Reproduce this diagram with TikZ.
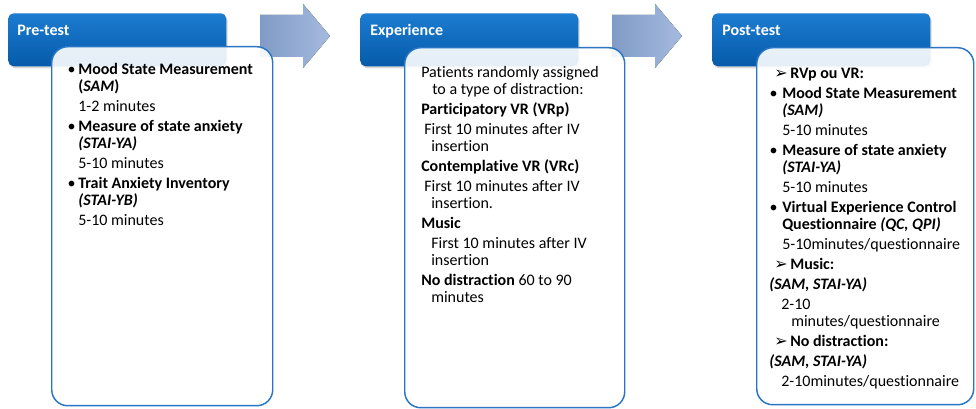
\documentclass[tikz,border=0pt]{standalone}
\usepackage{fontspec}
\setmainfont{Carlito}[Ligatures=NoCommon]
\newfontfamily\symfont{DejaVu Sans}
\usepackage{tikz}
\usetikzlibrary{positioning, shadows}
\definecolor{headtop}{RGB}{28,124,208}
\definecolor{headbot}{RGB}{6,90,170}
\definecolor{boxline}{RGB}{40,118,196}
\definecolor{arrowleft}{RGB}{128,155,198}
\definecolor{arrowright}{RGB}{165,186,222}
\newcommand{\bul}{\llap{\textbullet\hspace{2pt}}}
\newcommand{\bulwide}{\llap{\textbullet\hspace{3.5pt}}}
\newcommand{\arrhead}{{\symfont\fontsize{12}{12}\selectfont ➢}\hspace{2pt}}

\begin{document}
\begin{tikzpicture}[
    x=0.75pt, y=-0.75pt,
    header/.style={rectangle, rounded corners=4pt, anchor=north west, minimum width=163.5pt, minimum height=39.75pt, top color=headtop, bottom color=headbot, drop shadow={shadow xshift=1pt, shadow yshift=-1.5pt, opacity=0.3}},
    headtext/.style={anchor=north west, inner sep=0pt, text=white, font=\bfseries\fontsize{12}{12.75}\selectfont},
    panel/.style={rectangle, rounded corners=12pt, anchor=north west, draw=boxline, line width=1.1pt, fill=white, fill opacity=0.9},
    paneltext/.style={inner sep=0pt, align=left, font=\fontsize{12}{12.75}\selectfont},
    blockarrow/.style={left color=arrowleft, right color=arrowright}
]
    \path[use as bounding box, fill=white] (0,0) rectangle (976,409);

    % stage headers
    \node[header] (pre) at (8,13) {};
    \node[header] (exp) at (360,13) {};
    \node[header] (post) at (712,13) {};

    % arrows between stages
    \fill[blockarrow] (260,15) -- (303,15) -- (303,4) -- (330,36) -- (303,68) -- (303,57) -- (260,57) -- cycle;
    \fill[blockarrow] (612,15) -- (655,15) -- (655,4) -- (682,36) -- (655,68) -- (655,57) -- (612,57) -- cycle;

    % content panels
    \node[panel, minimum width=165.75pt, minimum height=269.25pt] (prebox) at (51,46) {};
    \node[panel, minimum width=165pt, minimum height=270pt] (expbox) at (404,47) {};
    \node[panel, minimum width=162.75pt, minimum height=267.75pt] (postbox) at (756,47) {};

    \node[headtext, below right=7.5pt and 6.75pt of pre.north west] (pretitle) {\strut Pre-test};
    \node[headtext, below right=7.5pt and 7.5pt of exp.north west] (exptitle) {\strut Experience};
    \node[headtext, below right=7.5pt and 7.5pt of post.north west] (posttitle) {\strut Post-test};

    \node[paneltext, below right=12.1pt and 20.25pt of prebox.north west] (pretext) {\strut\bul\textbf{Mood State Measurement}\\
        \textbf{(\textit{SAM})}\\[2.25pt]
        1-2 minutes\\[2.25pt]
        \bul\textbf{Measure of state anxiety}\\
        \textbf{\textit{(STAI-YA)}}\\[2.25pt]
        5-10 minutes\\[2.25pt]
        \bul\textbf{Trait Anxiety Inventory}\\
        \textbf{\textit{(STAI-YB)}}\\[2.25pt]
        5-10 minutes};

    \node[paneltext, below right=13.6pt and 12.75pt of expbox.north west] (exptext) {\strut Patients randomly assigned\\
        \hspace*{8.25pt}to a type of distraction:\\[2.25pt]
        \textbf{Participatory VR (VRp)}\\[2.25pt]
        \hspace*{2.25pt}First 10 minutes after IV\\
        \hspace*{7.5pt}insertion\\[2.25pt]
        \textbf{Contemplative VR (VRc)}\\[2.25pt]
        \hspace*{2.25pt}First 10 minutes after IV\\
        \hspace*{7.5pt}insertion.\\[2.25pt]
        \textbf{Music}\\[2.25pt]
        \hspace*{7.5pt}First 10 minutes after IV\\
        \hspace*{7.5pt}insertion\\[2.25pt]
        \textbf{No distraction} 60 to 90\\
        \hspace*{7.5pt}minutes};

    \node[paneltext, below right=14.3pt and 9.75pt of postbox.north west] (posttext) {\strut\hspace*{3.75pt}\arrhead\textbf{RVp ou VR:}\\[2.25pt]
        \hspace*{9.75pt}\bulwide\textbf{Mood State Measurement}\\
        \hspace*{9.75pt}\textbf{\textit{(SAM)}}\\[2.25pt]
        \hspace*{9.75pt}5-10 minutes\\[2.25pt]
        \hspace*{9.75pt}\bulwide\textbf{Measure of state anxiety}\\
        \hspace*{9.75pt}\textbf{\textit{(STAI-YA)}}\\[2.25pt]
        \hspace*{9.75pt}5-10 minutes\\[2.25pt]
        \hspace*{9.75pt}\bulwide\textbf{Virtual Experience Control}\\
        \hspace*{9.75pt}\textbf{Questionnaire \textit{(QC, QPI)}}\\[2.25pt]
        \hspace*{9.75pt}5-10minutes/questionnaire\\[2.25pt]
        \hspace*{3.75pt}\arrhead\textbf{Music:}\\[2.25pt]
        \textbf{\textit{(SAM, STAI-YA)}}\\[2.25pt]
        \hspace*{9pt}2-10\\
        \hspace*{16.5pt}minutes/questionnaire\\[2.25pt]
        \hspace*{3.75pt}\arrhead\textbf{No distraction:}\\[2.25pt]
        \textbf{\textit{(SAM, STAI-YA)}}\\[2.25pt]
        \hspace*{9pt}2-10minutes/questionnaire};
\end{tikzpicture}
\end{document}
